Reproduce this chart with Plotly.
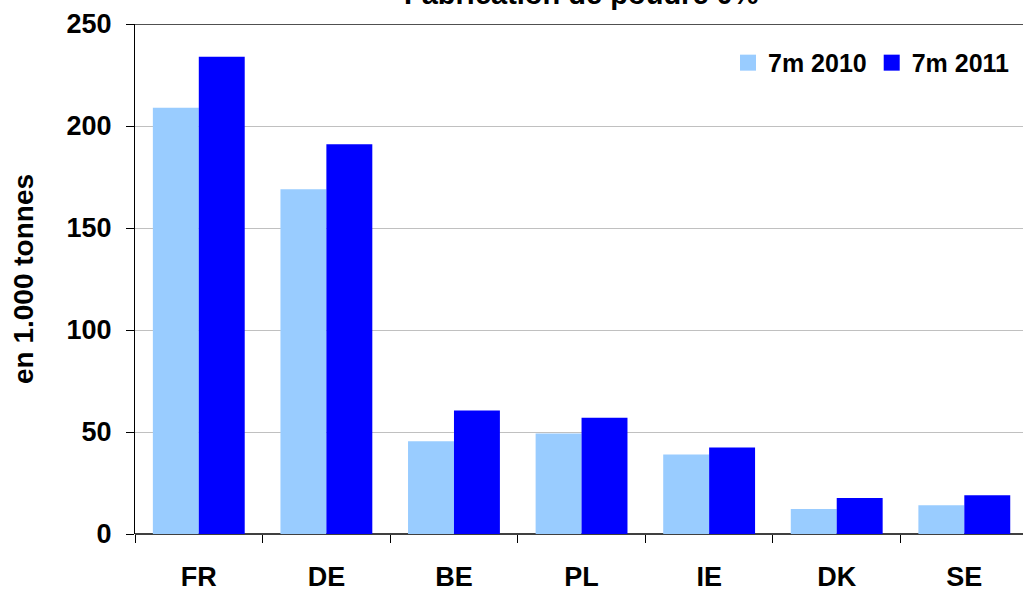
import plotly.graph_objects as go

categories = ["FR", "DE", "BE", "PL", "IE", "DK", "SE"]
series_names = ["7m 2010", "7m 2011"]
values_2010 = [209, 169, 45.5, 49.3, 39, 12.2, 14.1]
values_2011 = [234, 191, 60.5, 57, 42.4, 17.6, 19]
y_ticks = [0, 50, 100, 150, 200, 250]
title_text = "Fabrication de poudre 0%"
y_title = "en 1.000 tonnes"

colors = ["#99CCFF", "#0000FF"]
FONT = "Liberation Sans, Arial, sans-serif"

fig = go.Figure()
for name, vals, col in zip(series_names, [values_2010, values_2011], colors):
    fig.add_trace(go.Bar(x=categories, y=vals, name=name, marker=dict(color=col, line=dict(width=0)),
                         showlegend=False, legendgroup=name))
    fig.add_trace(go.Scatter(x=[None], y=[None], mode="markers", name=name, legendgroup=name,
                             marker=dict(symbol="square", size=16, color=col)))

fig.update_layout(
    width=1023, height=592,
    margin=dict(l=135, r=0, t=24, b=55),
    paper_bgcolor="white", plot_bgcolor="white",
    barmode="group", bargap=0.28, bargroupgap=0,
    font=dict(family=FONT, size=27, color="black", weight="bold"),
    showlegend=True,
    legend=dict(orientation="h", x=(728 - 135) / 888, xanchor="left", y=(537 - 40) / 513, yanchor="top",
                font=dict(size=25, family=FONT, weight="bold"), bgcolor="rgba(0,0,0,0)",
                itemwidth=30, tracegroupgap=0),
    xaxis=dict(range=[-0.5, 6.46], showgrid=False, showline=False, zeroline=False,
               ticks="outside", tickson="boundaries", ticklen=8, tickcolor="black", tickwidth=1,
               ticklabelstandoff=24, tickfont=dict(size=27, family=FONT, weight="bold")),
    yaxis=dict(range=[0, 250], tickvals=y_ticks, showgrid=True, gridcolor="#C0C0C0", gridwidth=1,
               showline=True, linecolor="black", linewidth=1,
               zeroline=True, zerolinecolor="#404040", zerolinewidth=2,
               ticks="outside", ticklen=8, tickcolor="black", tickwidth=1, ticklabelstandoff=9,
               tickfont=dict(size=27, family=FONT, weight="bold"),
               title=dict(text=y_title, font=dict(size=28, family=FONT, weight="bold"), standoff=24)),
)

fig.add_shape(type="line", xref="paper", x0=0, x1=1, yref="y", y0=250, y1=250,
              line=dict(color="#505050", width=2), layer="above")

fig.add_annotation(text=title_text, xref="x", x=3.0, yref="paper", y=1, yanchor="bottom", yshift=12,
                   showarrow=False, font=dict(size=29, family=FONT, weight="bold", color="black"))

fig.write_html(
    "out.html",
    config={"displayModeBar": False},
    post_script="document.body.style.margin='0';document.body.style.padding='0';"
                "document.body.style.overflow='hidden';",
)
